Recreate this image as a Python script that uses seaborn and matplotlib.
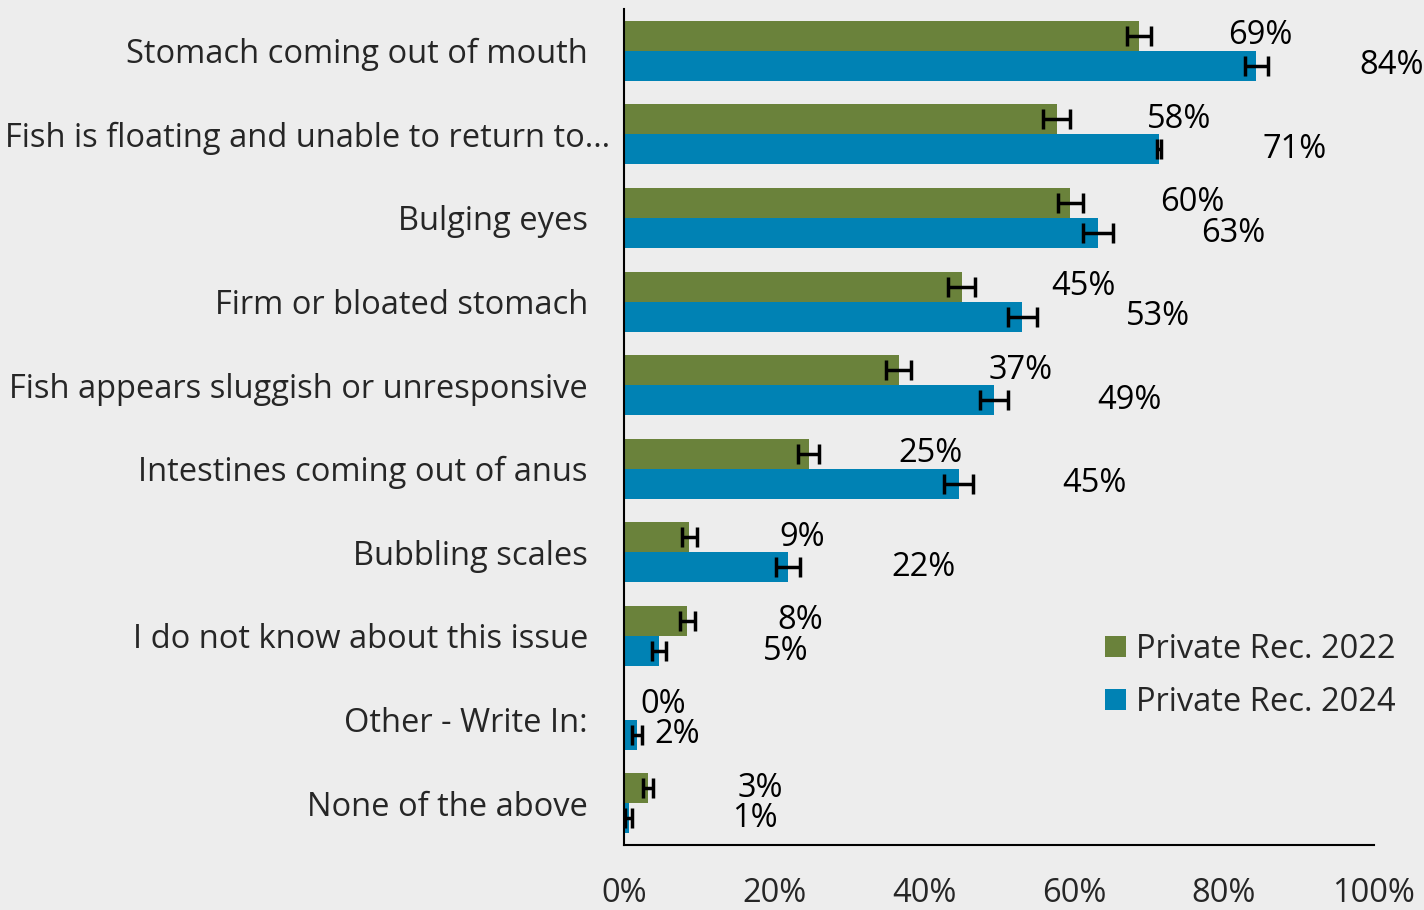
import numpy as np
import pandas as pd
import matplotlib
matplotlib.use('Agg')
import matplotlib.pyplot as plt
from matplotlib.patches import Patch
from matplotlib.transforms import ScaledTranslation
import seaborn as sns

# === DATA ===
categories = [
    'Stomach coming out of mouth',
    'Fish is floating and unable to return to…',
    'Bulging eyes',
    'Firm or bloated stomach',
    'Fish appears sluggish or unresponsive',
    'Intestines coming out of anus',
    'Bubbling scales',
    'I do not know about this issue',
    'Other - Write In:',
    'None of the above',
]
years = ['Private Rec. 2022', 'Private Rec. 2024']
values_2022 = [68.6, 57.7, 59.5, 45.0, 36.6, 24.6, 8.7, 8.4, 0.0, 3.2]
values_2024 = [84.3, 71.3, 63.2, 53.1, 49.3, 44.6, 21.8, 4.7, 1.7, 0.6]
err_2022 = [1.6, 1.8, 1.7, 1.75, 1.7, 1.45, 1.0, 1.0, 0.0, 0.7]
err_2024 = [1.5, 0.3, 2.0, 1.95, 1.9, 1.9, 1.6, 0.93, 0.65, 0.47]

colors = ['#6A823B', '#0082B4']
bg = '#EDEDED'

# label offsets (percentage points right of bar end)
label_pad = [12.0, 13.8]
label_pad_override = {'Other - Write In:': [2.2, 2.3]}

df = pd.DataFrame({
    'category': categories * 2,
    'year': [years[0]] * len(categories) + [years[1]] * len(categories),
    'value': values_2022 + values_2024,
})

sns.set_style('white')
plt.rcParams['font.family'] = ['Open Sans', 'DejaVu Sans']
fs = 23.5

fig = plt.figure(figsize=(14.24, 9.10), dpi=100, facecolor=bg)
ax = fig.add_axes([624 / 1424, 1 - 845 / 910, 750 / 1424, 836 / 910])
ax.set_facecolor(bg)

sns.barplot(data=df, y='category', x='value', hue='year', order=categories,
            hue_order=years, palette=colors, saturation=1, width=0.72,
            errorbar=None, linewidth=0, legend=False, orient='h', ax=ax)

errs = [err_2022, err_2024]
vals = [values_2022, values_2024]
bar_containers = list(ax.containers)
for k, cont in enumerate(bar_containers):
    ys = np.array([p.get_y() + p.get_height() / 2 for p in cont.patches])
    v = np.array(vals[k])
    e = np.array(errs[k])
    m = e > 0
    ax.errorbar(v[m], ys[m], xerr=e[m], fmt='none', ecolor='black',
                elinewidth=2.5, capsize=7, capthick=2.5, zorder=5)
    for i, (val, y) in enumerate(zip(v, ys)):
        pad = label_pad_override.get(categories[i], label_pad)[k]
        ax.text(val + pad, y, f'{round(val):.0f}%', ha='left', va='center',
                fontsize=fs, color='black', clip_on=False)

ax.set_xlim(0, 100)
ax.set_ylim(len(categories) - 0.5, -0.5)
ax.set_xticks([0, 20, 40, 60, 80, 100])
ax.set_xticklabels([f'{t}%' for t in [0, 20, 40, 60, 80, 100]])
ax.tick_params(axis='x', length=0, pad=23, labelsize=fs)
ax.tick_params(axis='y', length=0, pad=26, labelsize=fs)
ax.set_xlabel('')
ax.set_ylabel('')
for s in ['top', 'right']:
    ax.spines[s].set_visible(False)
for s in ['left', 'bottom']:
    ax.spines[s].set_color('black')
    ax.spines[s].set_linewidth(1.5)

# the truncated label runs closer to the axis, as in the original
for lbl in ax.get_yticklabels():
    if lbl.get_text().endswith('…'):
        lbl.set_transform(lbl.get_transform() + ScaledTranslation(0.22, 0, fig.dpi_scale_trans))

handles = [Patch(facecolor=c, edgecolor='none', label=l) for c, l in zip(colors, years)]
fig.legend(handles=handles, loc='center left',
           bbox_to_anchor=(1105 / 1424, 1 - 676 / 910),
           frameon=False, fontsize=fs, borderpad=0, borderaxespad=0,
           handlelength=0.64, handleheight=0.64, handletextpad=0.3,
           labelspacing=0.62)

fig.savefig('out.png', dpi=100, facecolor=bg)
